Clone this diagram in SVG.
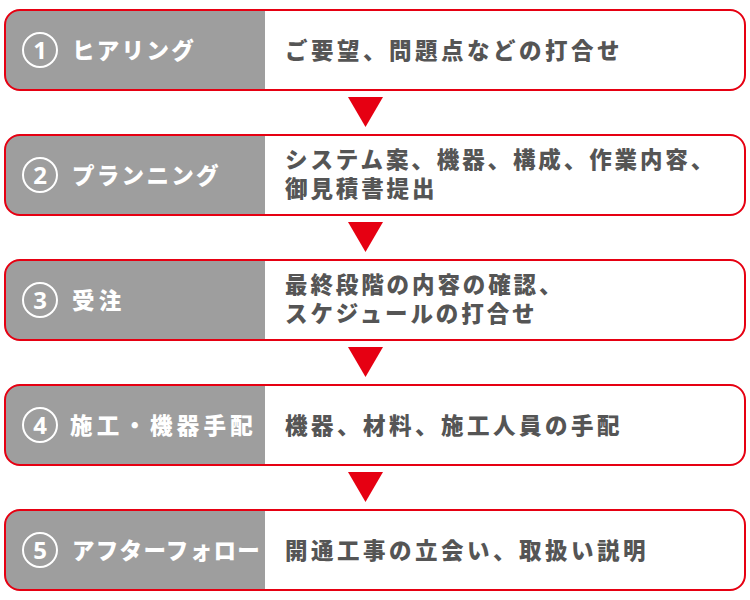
<svg xmlns="http://www.w3.org/2000/svg" width="750" height="600" viewBox="0 0 750 600">
<defs>
<style>
.frame{fill:none;stroke:#e60012;stroke-width:2}
.gray{fill:#9e9e9e}
.ring{fill:none;stroke:#fff;stroke-width:2}
.num{font-family:"Noto Sans","Liberation Sans",sans-serif;font-weight:700;font-size:24px;fill:#fff;text-anchor:middle}
.lab{font-family:"Noto Sans CJK JP",sans-serif;font-weight:900;font-size:22.5px;fill:#fff}
.txt{font-family:"Noto Sans CJK JP",sans-serif;font-weight:900;font-size:22.5px;fill:#555;letter-spacing:3.5px}
.arr{fill:#e60012}
</style>
<g id="stepbase">
<rect x="5" y="0" width="740" height="80" rx="15" ry="15" fill="#fff"/>
<path class="gray" d="M265 0 H20 A15 15 0 0 0 5 15 V65 A15 15 0 0 0 20 80 H265 Z"/>
<rect class="frame" x="5" y="0" width="740" height="80" rx="15" ry="15"/>
<circle class="ring" cx="40" cy="40" r="17"/>
</g>
</defs>

<g id="step1">
<use href="#stepbase" y="10"/>
<text class="num" x="40" y="58.5">1</text>
<text class="lab" x="72" y="58.5" style="letter-spacing:2.3px">ヒアリング</text>
<text class="txt" x="285" y="58.5">ご要望、問題点などの打合せ</text>
</g>

<g id="step2">
<use href="#stepbase" y="135"/>
<text class="num" x="40" y="183.5">2</text>
<text class="lab" x="72" y="183.5" style="letter-spacing:2.3px">プランニング</text>
<text class="txt" x="285" y="167.5" style="letter-spacing:2.9px">システム案、機器、構成、作業内容、</text>
<text class="txt" x="285" y="196.5" style="letter-spacing:2.9px">御見積書提出</text>
</g>

<g id="step3">
<use href="#stepbase" y="260"/>
<text class="num" x="40" y="308.5">3</text>
<text class="lab" x="72" y="308.5" style="letter-spacing:4.2px">受注</text>
<text class="txt" x="285" y="292.5" style="letter-spacing:2.9px">最終段階の内容の確認、</text>
<text class="txt" x="285" y="321.5" style="letter-spacing:2.9px">スケジュールの打合せ</text>
</g>

<g id="step4">
<use href="#stepbase" y="385"/>
<text class="num" x="40" y="433.5">4</text>
<text class="lab" x="70" y="433.5" style="letter-spacing:4.2px">施工・機器手配</text>
<text class="txt" x="285" y="433.5">機器、材料、施工人員の手配</text>
</g>

<g id="step5">
<use href="#stepbase" y="510"/>
<text class="num" x="40" y="558.5">5</text>
<text class="lab" x="72" y="558.5" style="letter-spacing:1.3px">アフターフォロー</text>
<text class="txt" x="285" y="558.5">開通工事の立会い、取扱い説明</text>
</g>

<g id="connectors">
<polygon class="arr" points="348,97 383,97 365.5,127"/>
<polygon class="arr" points="348,222 383,222 365.5,252"/>
<polygon class="arr" points="348,347 383,347 365.5,377"/>
<polygon class="arr" points="348,472 383,472 365.5,502"/>
</g>
</svg>
